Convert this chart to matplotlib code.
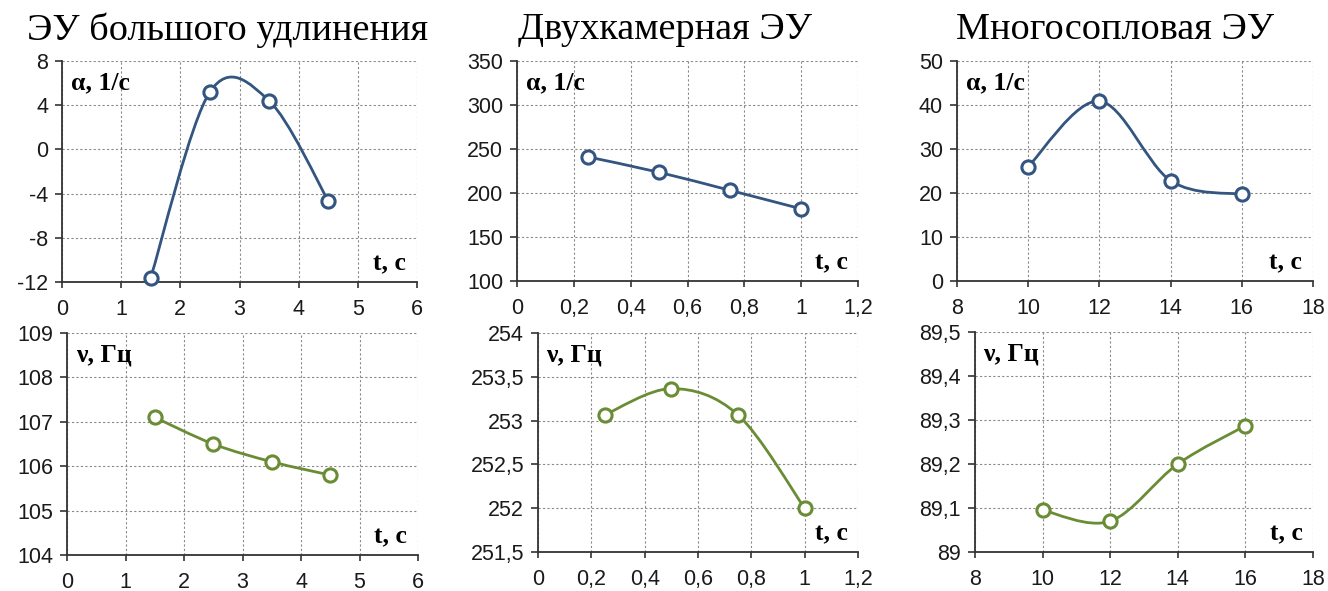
import numpy as np
import matplotlib
matplotlib.use('Agg')
import matplotlib.pyplot as plt
from matplotlib.path import Path
from matplotlib.patches import PathPatch
from matplotlib.ticker import FixedLocator, FuncFormatter

plt.rcParams['font.family'] = 'Liberation Sans'

W, H = 1328, 591

titles = ['ЭУ большого удлинения', 'Двухкамерная ЭУ', 'Многосопловая ЭУ']

t_long = [1.5, 2.5, 3.5, 4.5]
alpha_long = [-11.6, 5.2, 4.4, -4.65]
nu_long = [107.1, 106.5, 106.1, 105.8]

t_two = [0.25, 0.5, 0.75, 1.0]
alpha_two = [241, 223.5, 203, 182]
nu_two = [253.065, 253.365, 253.065, 252.0]

t_multi = [10, 12, 14, 16]
alpha_multi = [26, 40.9, 22.8, 19.7]
nu_multi = [89.095, 89.07, 89.2, 89.287]

xticks_long = [0, 1, 2, 3, 4, 5, 6]
xticks_two = [0, 0.2, 0.4, 0.6, 0.8, 1.0, 1.2]
xticks_multi = [8, 10, 12, 14, 16, 18]

yticks_alpha_long = [-12, -8, -4, 0, 4, 8]
yticks_alpha_two = [100, 150, 200, 250, 300, 350]
yticks_alpha_multi = [0, 10, 20, 30, 40, 50]
yticks_nu_long = [104, 105, 106, 107, 108, 109]
yticks_nu_two = [251.5, 252, 252.5, 253, 253.5, 254]
yticks_nu_multi = [89, 89.1, 89.2, 89.3, 89.4, 89.5]

BLUE = '#335580'
GREEN = '#6a8c35'


def comma(v, pos):
    return ('%g' % round(v, 6)).replace('.', ',')


def smooth_path(x, y):
    # Bezier segments through the points (Excel-style smoothed line)
    p = np.column_stack([x, y]).astype(float)
    ext = np.vstack([p[0], p, p[-1]])
    verts = [p[0]]
    codes = [Path.MOVETO]
    for i in range(len(p) - 1):
        c1 = p[i] + (ext[i + 2] - ext[i]) / 6.0
        c2 = p[i + 1] - (ext[i + 3] - ext[i + 1]) / 6.0
        verts += [c1, c2, p[i + 1]]
        codes += [Path.CURVE4] * 3
    return Path(verts, codes)


def panel(box, x, y, xt, yt, color, ylab):
    l, t, r, b = box
    ax = fig.add_axes([l / W, 1 - b / H, (r - l) / W, (b - t) / H])
    ax.set_xlim(xt[0], xt[-1])
    ax.set_ylim(yt[0], yt[-1])
    ax.xaxis.set_major_locator(FixedLocator(xt))
    ax.yaxis.set_major_locator(FixedLocator(yt))
    ax.xaxis.set_major_formatter(FuncFormatter(comma))
    ax.yaxis.set_major_formatter(FuncFormatter(comma))
    ax.grid(True, color='#8a8a8a', linestyle=(0, (2, 2)), linewidth=0.8)
    ax.set_axisbelow(True)
    for s in ['top', 'right']:
        ax.spines[s].set_visible(False)
    for s in ['left', 'bottom']:
        ax.spines[s].set_color('#333333')
        ax.spines[s].set_linewidth(1.3)
    ax.tick_params(axis='x', direction='out', length=4, width=1.2, color='#333333',
                   labelsize=15.5, pad=8, labelcolor='#1a1a1a')
    ax.tick_params(axis='y', direction='out', length=5, width=1.2, color='#333333',
                   labelsize=15.5, pad=5, labelcolor='#1a1a1a')
    ax.add_patch(PathPatch(smooth_path(x, y), facecolor='none', edgecolor=color,
                           linewidth=2.0, zorder=3))
    ax.plot(x, y, linestyle='none', marker='o', markersize=9.5, markerfacecolor='white',
            markeredgecolor=color, markeredgewidth=2.2, zorder=4, clip_on=False)
    ax.text(0.025, 0.9, ylab, transform=ax.transAxes, family='Liberation Serif',
            fontweight='bold', fontsize=18.5, ha='left', va='center')
    ax.text(0.97, 0.03, 't, с', transform=ax.transAxes, family='Liberation Serif',
            fontweight='bold', fontsize=18.5, ha='right', va='bottom')
    return ax


fig = plt.figure(figsize=(W / 100, H / 100), dpi=100)

panel((62, 61, 417, 282), t_long, alpha_long, xticks_long, yticks_alpha_long, BLUE, 'α, 1/с')
panel((67, 333, 418, 555), t_long, nu_long, xticks_long, yticks_nu_long, GREEN, 'ν, Гц')
panel((517, 61, 858, 281), t_two, alpha_two, xticks_two, yticks_alpha_two, BLUE, 'α, 1/с')
panel((538, 333, 858, 552), t_two, nu_two, xticks_two, yticks_nu_two, GREEN, 'ν, Гц')
panel((957, 61, 1313, 281), t_multi, alpha_multi, xticks_multi, yticks_alpha_multi, BLUE, 'α, 1/с')
panel((975, 332, 1313, 552), t_multi, nu_multi, xticks_multi, yticks_nu_multi, GREEN, 'ν, Гц')

for cx, title in zip([228, 665, 1115], titles):
    fig.text(cx / W, 1 - 30 / H, title, family='Liberation Serif', fontsize=27.5,
             ha='center', va='center')

fig.savefig('out.png', dpi=100, facecolor='white')
